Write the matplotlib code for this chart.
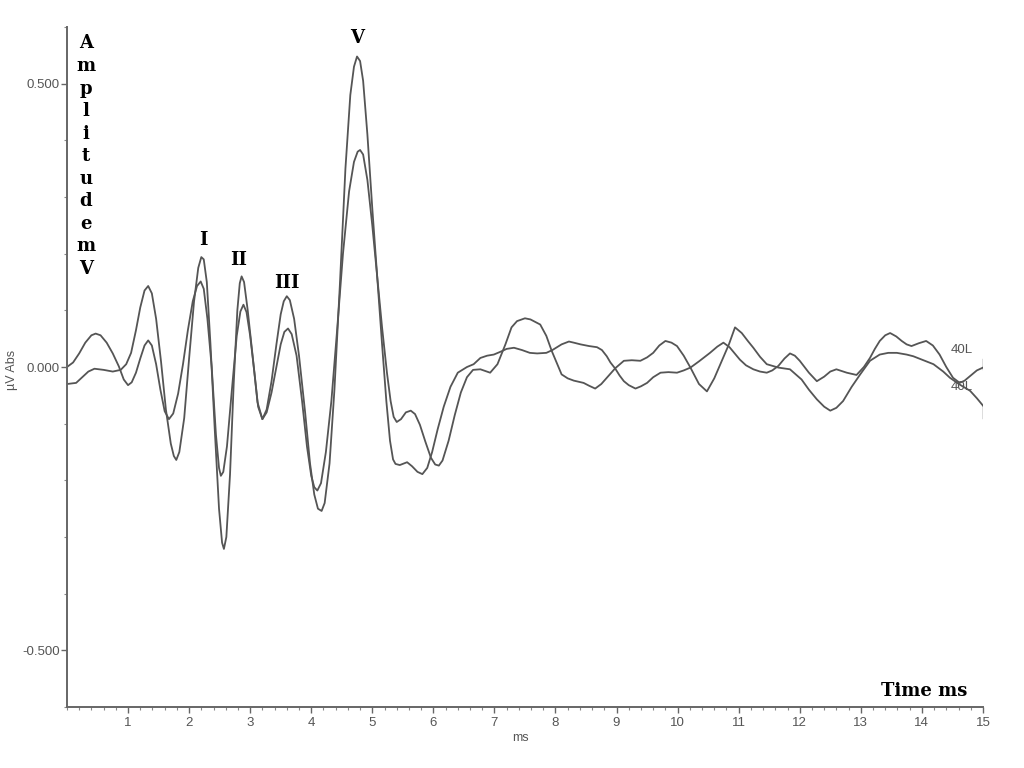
### Import libraries
import matplotlib.pyplot as plt
from matplotlib.ticker import MultipleLocator, FixedLocator


### Data (time in ms, amplitude in uV)
# trace with the smaller wave V
time_a = [0.0, 0.1, 0.2, 0.3, 0.4, 0.47, 0.55, 0.65, 0.75, 0.85, 0.93, 1.0, 1.06, 1.13, 1.2, 1.27, 1.33,
          1.39, 1.46, 1.53, 1.6, 1.67, 1.74, 1.82, 1.9, 1.98, 2.06, 2.13, 2.19, 2.24, 2.3, 2.37, 2.44,
          2.49, 2.52, 2.56, 2.62, 2.7, 2.78, 2.84, 2.89, 2.94, 3.0, 3.07, 3.13, 3.2, 3.27, 3.35, 3.43,
          3.5, 3.56, 3.62, 3.68, 3.76, 3.85, 3.93, 4.0, 4.05, 4.1, 4.16, 4.24, 4.33, 4.42, 4.52, 4.62,
          4.7, 4.76, 4.8, 4.85, 4.92, 5.0, 5.08, 5.16, 5.24, 5.3, 5.35, 5.4, 5.47, 5.55, 5.63, 5.7,
          5.78, 5.87, 5.96, 6.03, 6.09, 6.15, 6.25, 6.35, 6.45, 6.55, 6.65,
          6.77, 6.93, 7.05, 7.18, 7.28, 7.37, 7.5, 7.59, 7.75, 7.85, 7.94, 8.1, 8.2, 8.3, 8.46, 8.55,
          8.65, 8.75, 8.84, 8.98, 9.12, 9.25, 9.39, 9.5, 9.6, 9.7, 9.8, 9.9, 9.99, 10.1, 10.21, 10.35,
          10.48, 10.6, 10.7, 10.84, 10.94, 11.05, 11.15, 11.24, 11.35, 11.46, 11.65, 11.84, 12.03,
          12.15, 12.28, 12.4, 12.5, 12.6, 12.71, 12.85, 12.99, 13.15, 13.31, 13.45, 13.59, 13.75,
          13.86, 14.0, 14.19, 14.35, 14.46, 14.62, 14.79, 14.9, 15.0]
amp_a = [0.0, 0.008, 0.024, 0.043, 0.056, 0.059, 0.056, 0.043, 0.024, 0.001, -0.022, -0.032, -0.027, -0.010, 0.015, 0.038, 0.047,
         0.038, 0.005, -0.040, -0.078, -0.092, -0.082, -0.047, 0.005, 0.065, 0.116, 0.143, 0.151, 0.138, 0.085, 0.0, -0.120,
         -0.178, -0.192, -0.185, -0.140, -0.041, 0.055, 0.098, 0.110, 0.097, 0.055, -0.010, -0.070, -0.092, -0.080, -0.045, 0.0,
         0.040, 0.062, 0.068, 0.058, 0.020, -0.060, -0.140, -0.192, -0.212, -0.218, -0.205, -0.150, -0.060, 0.060, 0.200, 0.310,
         0.362, 0.380, 0.383, 0.375, 0.330, 0.250, 0.160, 0.070, -0.010, -0.060, -0.088, -0.097, -0.092, -0.080, -0.077, -0.083,
         -0.102, -0.132, -0.160, -0.172, -0.174, -0.165, -0.130, -0.085, -0.045, -0.018, -0.005,
         -0.004, -0.010, 0.005, 0.040, 0.070, 0.081, 0.086, 0.084, 0.075, 0.055, 0.028, -0.013, -0.020, -0.024, -0.028, -0.033,
         -0.038, -0.030, -0.019, -0.002, 0.011, 0.012, 0.011, 0.017, 0.025, 0.038, 0.046, 0.043, 0.037, 0.020, -0.001, -0.030,
         -0.043, -0.020, 0.005, 0.040, 0.070, 0.060, 0.046, 0.034, 0.018, 0.005, -0.001, -0.004, -0.022,
         -0.040, -0.057, -0.070, -0.077, -0.072, -0.060, -0.035, -0.013, 0.011, 0.022, 0.025, 0.025, 0.022,
         0.019, 0.013, 0.005, -0.008, -0.019, -0.031, -0.042, -0.055, -0.068]

# trace with the larger wave V
time_b = [0.0, 0.15, 0.25, 0.35, 0.45, 0.6, 0.75, 0.88, 0.97, 1.05, 1.13, 1.2, 1.27, 1.33, 1.39, 1.46,
          1.54, 1.62, 1.7, 1.75, 1.79, 1.84, 1.92, 2.0, 2.08, 2.15, 2.2, 2.24, 2.29, 2.35, 2.42, 2.49,
          2.54, 2.57, 2.61, 2.67, 2.73, 2.79, 2.83, 2.86, 2.9, 2.96, 3.04, 3.12, 3.2, 3.27, 3.35, 3.43,
          3.5, 3.55, 3.6, 3.65, 3.72, 3.8, 3.9, 3.98, 4.05, 4.11, 4.17, 4.22, 4.3, 4.38, 4.47, 4.56,
          4.64, 4.7, 4.75, 4.8, 4.85, 4.92, 5.0, 5.08, 5.16, 5.23, 5.29, 5.34, 5.38, 5.45, 5.52, 5.57,
          5.65, 5.74, 5.82, 5.9, 5.98, 6.07, 6.17, 6.28, 6.4, 6.55, 6.66,
          6.77, 6.88, 6.99, 7.1, 7.2, 7.32, 7.45, 7.58, 7.7, 7.85, 7.95, 8.1, 8.22, 8.3, 8.41, 8.55,
          8.68, 8.76, 8.84, 8.9, 8.98, 9.05, 9.12, 9.2, 9.31, 9.4, 9.5, 9.6, 9.72, 9.85, 9.99, 10.1,
          10.21, 10.35, 10.53, 10.65, 10.75, 10.85, 10.95, 11.02, 11.12, 11.24, 11.35, 11.46, 11.55,
          11.65, 11.75, 11.84, 11.92, 12.0, 12.15, 12.28, 12.4, 12.5, 12.6, 12.77, 12.93, 13.05, 13.15,
          13.23, 13.31, 13.4, 13.48, 13.58, 13.67, 13.75, 13.83, 13.95, 14.07, 14.18, 14.29, 14.4,
          14.51, 14.62, 14.7, 14.8, 14.9, 15.0]
amp_b = [-0.030, -0.028, -0.018, -0.008, -0.003, -0.005, -0.008, -0.005, 0.005, 0.025, 0.065, 0.105, 0.135, 0.143, 0.130, 0.085,
         0.010, -0.075, -0.135, -0.157, -0.164, -0.150, -0.090, 0.015, 0.115, 0.175, 0.194, 0.190, 0.150, 0.040, -0.110, -0.250,
         -0.310, -0.321, -0.300, -0.190, -0.030, 0.100, 0.148, 0.160, 0.150, 0.100, 0.020, -0.062, -0.092, -0.075, -0.025, 0.040,
         0.093, 0.116, 0.125, 0.118, 0.085, 0.020, -0.080, -0.170, -0.225, -0.250, -0.254, -0.240, -0.170, -0.040, 0.147, 0.350,
         0.480, 0.530, 0.548, 0.540, 0.505, 0.410, 0.280, 0.160, 0.040, -0.060, -0.130, -0.163, -0.171, -0.173, -0.170, -0.168,
         -0.175, -0.185, -0.189, -0.178, -0.150, -0.110, -0.070, -0.035, -0.010, 0.000, 0.005,
         0.016, 0.020, 0.022, 0.027, 0.032, 0.034, 0.030, 0.025, 0.024, 0.025, 0.030, 0.040, 0.045, 0.043, 0.040, 0.037,
         0.035, 0.030, 0.019, 0.008, -0.003, -0.015, -0.025, -0.032, -0.038, -0.034, -0.028, -0.018, -0.010, -0.009, -0.010, -0.006,
         -0.001, 0.010, 0.025, 0.036, 0.043, 0.035, 0.022, 0.013, 0.003, -0.004, -0.008, -0.010, -0.006,
         0.002, 0.015, 0.024, 0.020, 0.011, -0.010, -0.025, -0.017, -0.008, -0.004, -0.010, -0.014, 0.0, 0.016,
         0.032, 0.046, 0.056, 0.060, 0.054, 0.046, 0.040, 0.037, 0.042, 0.046, 0.038, 0.022, 0.0,
         -0.019, -0.028, -0.024, -0.015, -0.006, -0.001]

trace_labels = ['40L', '40L']
peak_names = ['I', 'II', 'III', 'V']
y_ticks = [-0.5, 0.0, 0.5]
y_tick_labels = ['-0.500', '0.000', '0.500']
x_ticks = list(range(1, 16))
ylabel_letters = ['A', 'm', 'p', 'l', 'i', 't', 'u', 'd', 'e', 'm', 'V']


### Plot
fig = plt.figure(figsize=(10.24, 7.68), dpi=100)
ax = fig.add_axes([0.0654, 0.0794, 0.8945, 0.8854])

line_col = '#555555'
ax.plot(time_a, amp_a, color=line_col, lw=1.3)
ax.plot(time_b, amp_b, color=line_col, lw=1.3)

ax.set_xlim(0, 15)
ax.set_ylim(-0.6, 0.6)

for side in ['top', 'right']:
    ax.spines[side].set_visible(False)
for side in ['left', 'bottom']:
    ax.spines[side].set_color('#666666')
    ax.spines[side].set_linewidth(1.4)

# small grey axis text, Arial-like
small = dict(family='Liberation Sans', color='#555555')

ax.yaxis.set_major_locator(FixedLocator(y_ticks))
ax.set_yticklabels(y_tick_labels, **small)
ax.yaxis.set_minor_locator(MultipleLocator(0.1))
ax.xaxis.set_major_locator(FixedLocator(x_ticks))
ax.set_xticklabels([str(v) for v in x_ticks], **small)
ax.xaxis.set_minor_locator(MultipleLocator(0.2))
ax.tick_params(axis='both', which='major', length=4, width=1, colors='#666666',
               labelsize=9.5, labelcolor='#555555')
ax.tick_params(axis='both', which='minor', length=2, width=0.8, colors='#888888')
ax.tick_params(axis='y', which='major', pad=1)

fig.text(520 / 1024, 1 - 738 / 768, 'ms', fontsize=9, ha='center', va='center', **small)
fig.text(12 / 1024, 1 - 370 / 768, 'µV Abs', fontsize=9, rotation=90, ha='center', va='center', **small)

# trace end labels
ax.text(14.48, 0.030, trace_labels[0], fontsize=9.5, va='center', **small)
ax.text(14.48, -0.036, trace_labels[1], fontsize=9.5, va='center', **small)
ax.plot([15.0, 15.0], [-0.004, 0.015], color=line_col, lw=1)
ax.plot([15.0, 15.0], [-0.068, -0.09], color=line_col, lw=1)

# wave labels
bold_serif = dict(family='DejaVu Serif', fontweight='bold', color='black')
ax.text(2.24, 0.208, peak_names[0], fontsize=13, ha='center', va='bottom', **bold_serif)
ax.text(2.81, 0.173, peak_names[1], fontsize=13, ha='center', va='bottom', **bold_serif)
ax.text(3.6, 0.133, peak_names[2], fontsize=13, ha='center', va='bottom', **bold_serif)
ax.text(4.75, 0.565, peak_names[3], fontsize=13, ha='center', va='bottom', **bold_serif)

# stacked y axis title
for i, ch in enumerate(ylabel_letters):
    ax.text(0.31, 0.571 - i * 0.0398, ch, fontsize=13, ha='center', va='center', **bold_serif)

ax.text(14.75, -0.572, 'Time ms', fontsize=13, ha='right', va='center', **bold_serif)

fig.savefig('out.png', dpi=100)
